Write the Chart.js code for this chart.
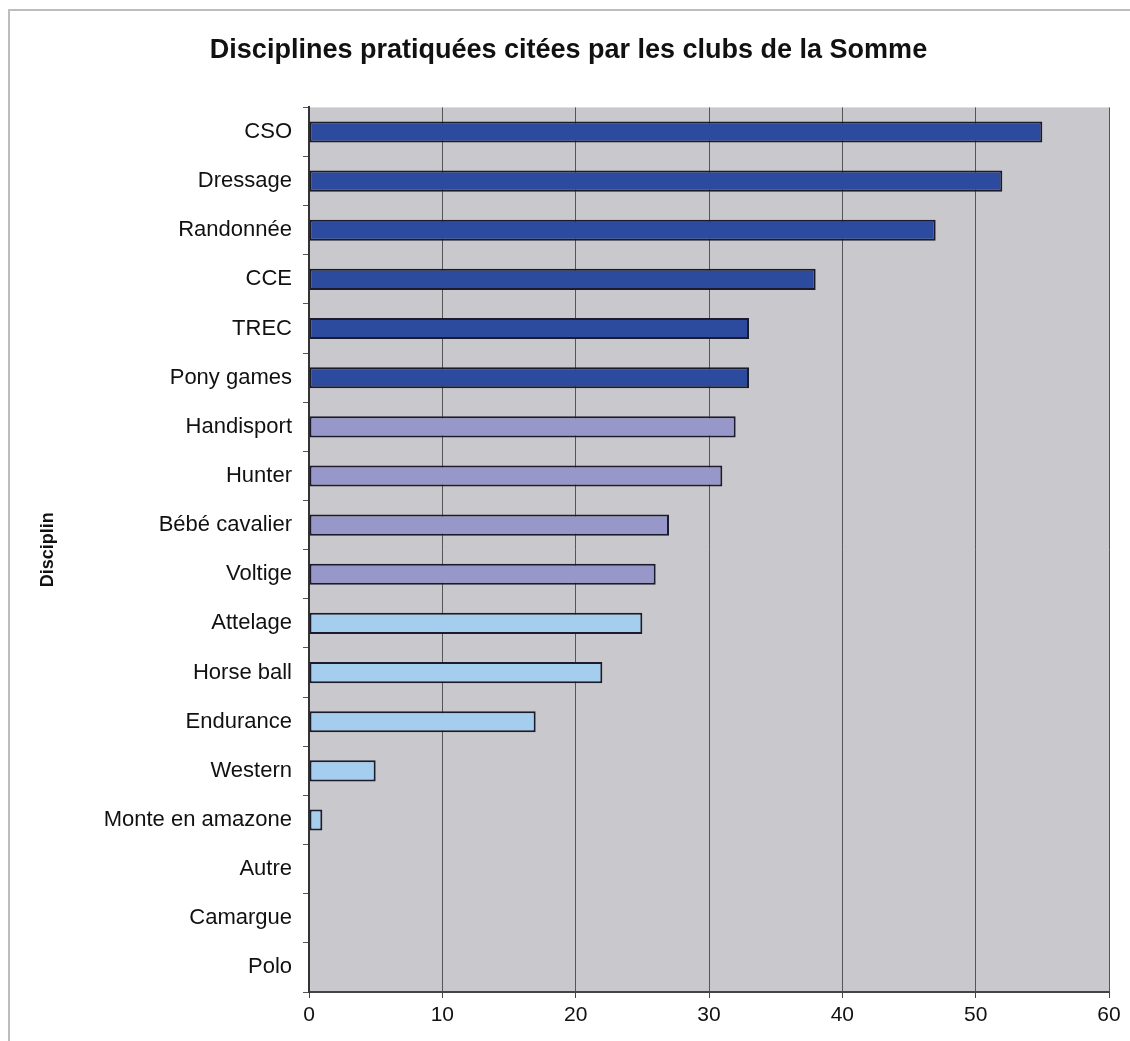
<!DOCTYPE html>
<html lang="fr">
<head>
<meta charset="utf-8">
<title>Disciplines pratiquées</title>
<script src="https://cdn.jsdelivr.net/npm/chart.js@4/dist/chart.umd.min.js"></script>
<style>
    html, body { margin: 0; padding: 0; background: #fff; }
    #wrap { width: 1130px; height: 1041px; position: relative; }
</style>
</head>
<body>
<div id="wrap"><canvas id="disciplines"></canvas></div>
<script>
(function() {
    'use strict';

    const disciplines = ['CSO', 'Dressage', 'Randonnée', 'CCE', 'TREC', 'Pony games', 'Handisport', 'Hunter',
        'Bébé cavalier', 'Voltige', 'Attelage', 'Horse ball', 'Endurance', 'Western', 'Monte en amazone',
        'Autre', 'Camargue', 'Polo'];
    const nbClubs = [55, 52, 47, 38, 33, 33, 32, 31, 27, 26, 25, 22, 17, 5, 1, 0, 0, 0];
    // 0 = disciplines olympiques, 1 = autres fédérales, 2 = loisir
    const groupe = [0, 0, 0, 0, 0, 0, 1, 1, 1, 1, 2, 2, 2, 2, 2, 2, 2, 2];
    const xTicks = [0, 10, 20, 30, 40, 50, 60];

    const palette = ['#2c4b9f', '#9797c9', '#a4cdee'];
    const font = 'Liberation Sans, Arial, sans-serif';

    // fond gris de la zone de tracé + cadre extérieur
    const fond = {
        id: 'fond',
        beforeDraw(chart) {
            const { ctx, chartArea: a } = chart;
            ctx.save();
            ctx.strokeStyle = '#bdbdbd';
            ctx.lineWidth = 2;
            ctx.strokeRect(9, 10, chart.width + 20, chart.height + 20);
            ctx.fillStyle = '#c9c9cd';
            ctx.fillRect(a.left, a.top, a.right - a.left, a.bottom - a.top);
            ctx.restore();
        }
    };

    new Chart(document.getElementById('disciplines'), {
        type: 'bar',
        data: {
            labels: disciplines,
            datasets: [{
                data: nbClubs,
                backgroundColor: groupe.map(g => palette[g]),
                borderColor: '#1b1b2b',
                borderWidth: 2,
                borderSkipped: false,
                barPercentage: 0.43,
                categoryPercentage: 1
            }]
        },
        plugins: [fond],
        options: {
            indexAxis: 'y',
            responsive: true,
            maintainAspectRatio: false,
            animation: false,
            layout: { padding: { left: 28, right: 21, top: 0, bottom: 9 } },
            plugins: {
                legend: { display: false },
                tooltip: { enabled: false },
                title: {
                    display: true,
                    text: 'Disciplines pratiquées citées par les clubs de la Somme',
                    color: '#111',
                    font: { family: font, size: 27, weight: 'bold' },
                    padding: { top: 34, bottom: 41 }
                }
            },
            scales: {
                x: {
                    min: 0,
                    max: 60,
                    afterBuildTicks(scale) { scale.ticks = xTicks.map(v => ({ value: v })); },
                    afterFit(scale) { scale.height = 40; },
                    grid: { color: '#555', lineWidth: 1, tickLength: 6, tickColor: '#444' },
                    border: { display: true, color: '#444', width: 2 },
                    ticks: { color: '#111', padding: 5, font: { family: font, size: 21 } }
                },
                y: {
                    afterFit(scale) { scale.width = 281; },
                    grid: { offset: true, drawOnChartArea: false, tickLength: 6, tickColor: '#555' },
                    border: { display: true, color: '#333', width: 2 },
                    ticks: { color: '#111', padding: 11, font: { family: font, size: 22 } },
                    title: {
                        display: true,
                        text: 'Disciplin',
                        color: '#111',
                        font: { family: font, size: 18, weight: 'bold' },
                        padding: { top: 9, bottom: 0 }
                    }
                }
            }
        }
    });
})();
</script>
</body>
</html>
